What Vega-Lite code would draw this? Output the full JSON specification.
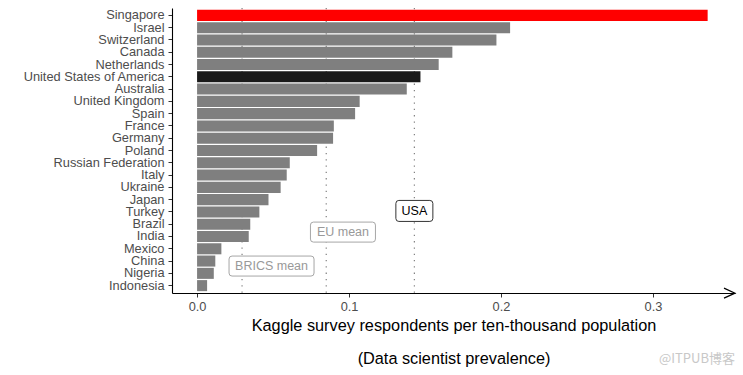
{
  "$schema": "https://vega.github.io/schema/vega-lite/v6.json",
  "width": 563,
  "height": 285,
  "autosize": {"type": "none"},
  "padding": {"left": 172, "top": 8, "right": 8, "bottom": 82},
  "background": "white",
  "title": {"text": "@ITPUB博客", "orient": "bottom", "anchor": "end", "frame": "group", "offset": -14, "fontSize": 13, "fontWeight": "normal", "color": "#c8c8c8", "font": "Noto Sans CJK SC"},
  "config": {
    "view": {"stroke": null},
    "font": "Liberation Sans",
    "axis": {"grid": false, "domainColor": "#000000", "domainWidth": 1.1, "tickColor": "#333333", "tickSize": 4, "labelColor": "#4d4d4d", "labelFontSize": 12.8, "labelFont": "Liberation Sans", "titleFont": "Liberation Sans", "titleFontWeight": "normal", "titleColor": "#000000", "titleFontSize": 16.3}
  },
  "datasets": {
    "countries": [
      {"country": "Singapore", "value": 0.336, "group": "Singapore"},
      {"country": "Israel", "value": 0.206, "group": "Other"},
      {"country": "Switzerland", "value": 0.197, "group": "Other"},
      {"country": "Canada", "value": 0.168, "group": "Other"},
      {"country": "Netherlands", "value": 0.159, "group": "Other"},
      {"country": "United States of America", "value": 0.147, "group": "USA"},
      {"country": "Australia", "value": 0.138, "group": "Other"},
      {"country": "United Kingdom", "value": 0.107, "group": "Other"},
      {"country": "Spain", "value": 0.104, "group": "Other"},
      {"country": "France", "value": 0.090, "group": "Other"},
      {"country": "Germany", "value": 0.0895, "group": "Other"},
      {"country": "Poland", "value": 0.079, "group": "Other"},
      {"country": "Russian Federation", "value": 0.061, "group": "Other"},
      {"country": "Italy", "value": 0.059, "group": "Other"},
      {"country": "Ukraine", "value": 0.055, "group": "Other"},
      {"country": "Japan", "value": 0.047, "group": "Other"},
      {"country": "Turkey", "value": 0.041, "group": "Other"},
      {"country": "Brazil", "value": 0.035, "group": "Other"},
      {"country": "India", "value": 0.034, "group": "Other"},
      {"country": "Mexico", "value": 0.016, "group": "Other"},
      {"country": "China", "value": 0.012, "group": "Other"},
      {"country": "Nigeria", "value": 0.011, "group": "Other"},
      {"country": "Indonesia", "value": 0.0066, "group": "Other"}
    ],
    "refs": [
      {"label": "BRICS mean", "value": 0.0296},
      {"label": "EU mean", "value": 0.085},
      {"label": "USA", "value": 0.143}
    ],
    "labels": [
      {"label": "USA", "x": 0.143, "country": "Turkey"},
      {"label": "EU mean", "x": 0.096, "country": "India"},
      {"label": "BRICS mean", "x": 0.049, "country": "China"}
    ],
    "arrow": [
      {"x": 0.354, "country": "Indonesia"}
    ]
  },
  "layer": [
    {
      "data": {"name": "refs"},
      "mark": {"type": "rule", "color": "#808080", "strokeWidth": 1.2, "strokeDash": [1.3, 5]},
      "encoding": {
        "x": {"field": "value", "type": "quantitative"}
      }
    },
    {
      "data": {"name": "countries"},
      "mark": {"type": "bar"},
      "encoding": {
        "y": {
          "field": "country", "type": "nominal", "title": null,
          "scale": {
            "domain": ["Singapore", "Israel", "Switzerland", "Canada", "Netherlands", "United States of America", "Australia", "United Kingdom", "Spain", "France", "Germany", "Poland", "Russian Federation", "Italy", "Ukraine", "Japan", "Turkey", "Brazil", "India", "Mexico", "China", "Nigeria", "Indonesia"],
            "paddingInner": 0.1, "paddingOuter": 0.15
          },
          "axis": {"labelPadding": 4, "domainColor": "#000000"}
        },
        "x": {
          "field": "value", "type": "quantitative",
          "scale": {"domain": [-0.0165, 0.354], "nice": false, "zero": false},
          "axis": {"values": [0, 0.1, 0.2, 0.3], "format": ".1f", "labelPadding": 3, "titlePadding": 5, "titleLineHeight": 33,
                   "title": ["Kaggle survey respondents per ten-thousand population", "(Data scientist prevalence)"]}
        },
        "color": {
          "field": "group", "type": "nominal", "legend": null,
          "scale": {"domain": ["Singapore", "USA", "Other"], "range": ["#ff0000", "#1a1a1a", "#7f7f7f"]}
        }
      }
    },
    {
      "data": {"name": "arrow"},
      "mark": {"type": "point", "filled": false, "stroke": "#000000", "strokeWidth": 1.2, "opacity": 1, "size": 100,
               "shape": "M-2.2,0.5L0,1.5L-2.2,2.5"},
      "encoding": {"x": {"field": "x", "type": "quantitative"}, "y": {"field": "country", "type": "nominal"}}
    },
    {
      "data": {"name": "labels"},
      "transform": [{"filter": "datum.label === 'USA'"}],
      "layer": [
        {
          "mark": {"type": "point", "filled": true, "fill": "white", "stroke": "#333333", "strokeWidth": 1, "opacity": 1, "size": 400,
                   "shape": "M-1.55,-1.15H1.55Q1.85,-1.15 1.85,-0.85V0.65Q1.85,0.95 1.55,0.95H-1.55Q-1.85,0.95 -1.85,0.65V-0.85Q-1.85,-1.15 -1.55,-1.15Z"},
          "encoding": {"x": {"field": "x", "type": "quantitative"}, "y": {"field": "country", "type": "nominal"}}
        },
        {
          "mark": {"type": "text", "fontSize": 12.5, "color": "#000000", "dy": -1, "baseline": "middle"},
          "encoding": {"x": {"field": "x", "type": "quantitative"}, "y": {"field": "country", "type": "nominal"}, "text": {"field": "label"}}
        }
      ]
    },
    {
      "data": {"name": "labels"},
      "transform": [{"filter": "datum.label === 'EU mean'"}],
      "layer": [
        {
          "mark": {"type": "point", "filled": true, "fill": "white", "stroke": "#a6a6a6", "strokeWidth": 1, "opacity": 1, "size": 400,
                   "shape": "M-2.95,-1.44H2.95Q3.25,-1.44 3.25,-1.14V0.26Q3.25,0.56 2.95,0.56H-2.95Q-3.25,0.56 -3.25,0.26V-1.14Q-3.25,-1.44 -2.95,-1.44Z"},
          "encoding": {"x": {"field": "x", "type": "quantitative"}, "y": {"field": "country", "type": "nominal"}}
        },
        {
          "mark": {"type": "text", "fontSize": 12.5, "color": "#999999", "dy": -4.4, "baseline": "middle"},
          "encoding": {"x": {"field": "x", "type": "quantitative"}, "y": {"field": "country", "type": "nominal"}, "text": {"field": "label"}}
        }
      ]
    },
    {
      "data": {"name": "labels"},
      "transform": [{"filter": "datum.label === 'BRICS mean'"}],
      "layer": [
        {
          "mark": {"type": "point", "filled": true, "fill": "white", "stroke": "#a6a6a6", "strokeWidth": 1, "opacity": 1, "size": 400,
                   "shape": "M-3.95,-0.5H3.95Q4.25,-0.5 4.25,-0.2V1.2Q4.25,1.5 3.95,1.5H-3.95Q-4.25,1.5 -4.25,1.2V-0.2Q-4.25,-0.5 -3.95,-0.5Z"},
          "encoding": {"x": {"field": "x", "type": "quantitative"}, "y": {"field": "country", "type": "nominal"}}
        },
        {
          "mark": {"type": "text", "fontSize": 12.5, "color": "#999999", "dy": 5, "baseline": "middle"},
          "encoding": {"x": {"field": "x", "type": "quantitative"}, "y": {"field": "country", "type": "nominal"}, "text": {"field": "label"}}
        }
      ]
    }
  ]
}
